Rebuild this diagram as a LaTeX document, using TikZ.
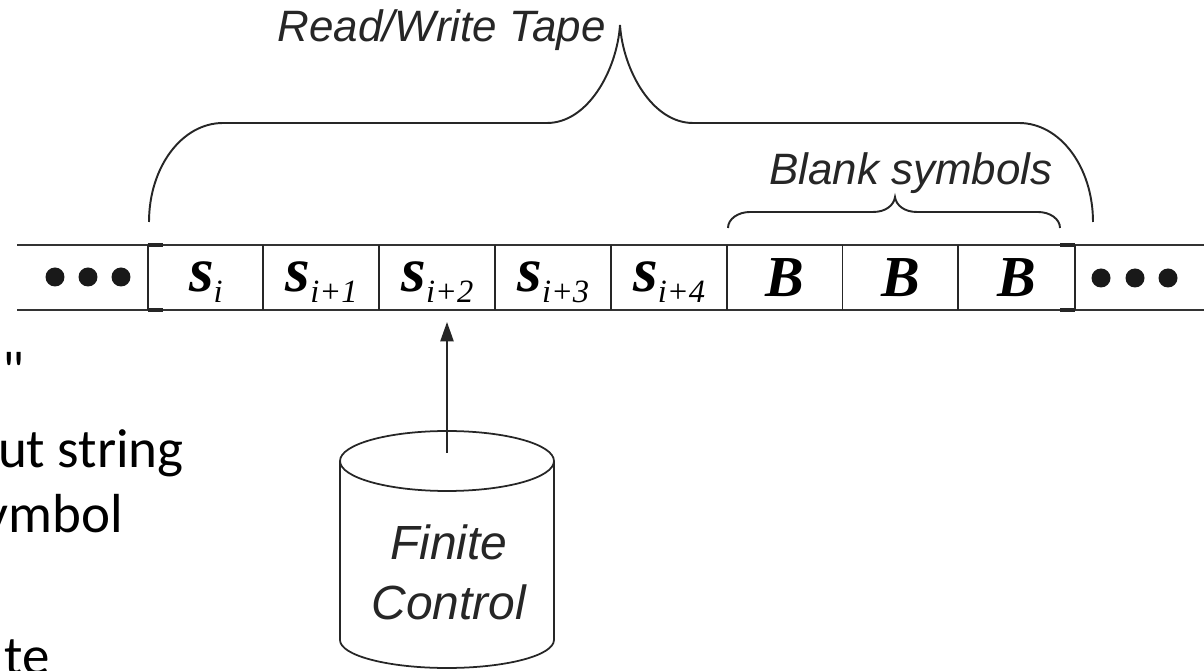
\documentclass[tikz,border=0pt]{standalone}
\usepackage{fontspec}
\setmainfont{Liberation Serif}
\newfontfamily\helv{Liberation Sans}
\newfontfamily\slidefont{Carlito}[Ligatures=TeXOff]
\usetikzlibrary{arrows.meta}

\newcommand{\sym}[1]{{\fontsize{36}{40}\selectfont\bfseries\itshape s}\raisebox{-5.7pt}{\fontsize{18.5}{20}\selectfont\itshape #1}}
\newcommand{\blank}{{\fontsize{33}{36}\selectfont\bfseries\itshape B}}

\tikzset{
  tape/.style={line width=1.7pt, draw=black!80},
  divider/.style={line width=1.1pt, draw=black!85},
  tick/.style={line width=2.4pt, draw=black!85},
  brace/.style={line width=1.1pt, draw=black!85},
  cyl/.style={line width=1pt, draw=black!85},
  cell/.style={minimum width=2.316cm, minimum height=1.3cm, inner sep=0pt},
  lbl/.style={inner sep=0pt, text=black!85, font=\helv\itshape\fontsize{25}{30}\selectfont},
  slide/.style={inner sep=0pt, font=\slidefont\fontsize{31.3}{36}\selectfont},
}

\begin{document}
\begin{tikzpicture}[x=0.02cm, y=-0.02cm]
\useasboundingbox (0,0) rectangle (1204,671);

% tape
\foreach \i in {0,...,7}
  \node[cell] (c\i) at ({205.9+115.8*\i}, 277.5) {};
\draw[tape] (17,245) -- (1204,245) (17,310) -- (1204,310);
\foreach \i in {0,...,7}
  \draw[divider] (c\i.north west) -- (c\i.south west);
\draw[divider] (c7.north east) -- (c7.south east);
\draw[tick] (c0.north west) -- ++(15,0) (c0.south west) -- ++(15,0);
\draw[tick] (c7.north east) -- ++(-15,0) (c7.south east) -- ++(-15,0);

\foreach \i/\t in {0/i, 1/i+1, 2/i+2, 3/i+3, 4/i+4}
  \node[anchor=base, inner sep=0pt] (l\i) at ([yshift=-0.29cm]c\i.center) {\sym{\t}};
\foreach \i in {5,6,7}
  \node[anchor=base, inner sep=0pt] (l\i) at ([yshift=-0.39cm]c\i.center) {\blank};

\foreach \x in {55,88,121}
  \fill[black!90] (\x,277) circle[radius=0.19cm];
\foreach \x in {1101,1135,1168}
  \fill[black!90] (\x,278) circle[radius=0.19cm];

% braces
\coordinate (rwL) at (149,222);
\coordinate (rwR) at (1093,222);
\draw[brace] (rwL) .. controls (149,167) and (182,123) .. (223,123) -- (547,123)
  .. controls (588,123) and (617,70) .. (620,25)
  .. controls (623,70) and (652,123) .. (693,123) -- (1019,123)
  .. controls (1060,123) and (1093,167) .. (rwR);
\node[lbl, anchor=base east] (rw) at (606,42) {Read/Write Tape};

\coordinate (bL) at (728,228);
\coordinate (bR) at (1060,228);
\draw[brace] (bL) .. controls (728,219) and (738,212) .. (750,212) -- (873,212)
  .. controls (886,212) and (894,205) .. (895,197)
  .. controls (896,205) and (904,212) .. (917,212) -- (1038,212)
  .. controls (1050,212) and (1060,219) .. (bR);
\node[lbl, anchor=base] (bs) at (911,185) {Blank symbols};

% finite control
\draw[cyl] (447,461) ellipse[x radius=2.14cm, y radius=0.6cm];
\draw[cyl] (340,461) -- (340,640) arc[start angle=180, end angle=360, x radius=2.14cm, y radius=0.56cm] -- (554,461);
\node[lbl, align=center, font=\helv\itshape\fontsize{27.3}{34}\selectfont] (fc) at (449,572) {Finite\\Control};
\coordinate (fctop) at (447,453);
\coordinate (head) at (447,322);
\draw[line width=1pt, black!85, -{Triangle[length=11pt, width=7.5pt]}] (fctop) -- (head);

% slide text behind
\node[slide, anchor=base west] (q) at (2,390) {"};
\node[slide, anchor=base east] (t1) at (184,468) {ut string};
\node[slide, anchor=base east] (t2) at (123,533) {ymbol};
\node[slide, anchor=base east] (t3) at (50,675) {te};
\end{tikzpicture}
\end{document}
